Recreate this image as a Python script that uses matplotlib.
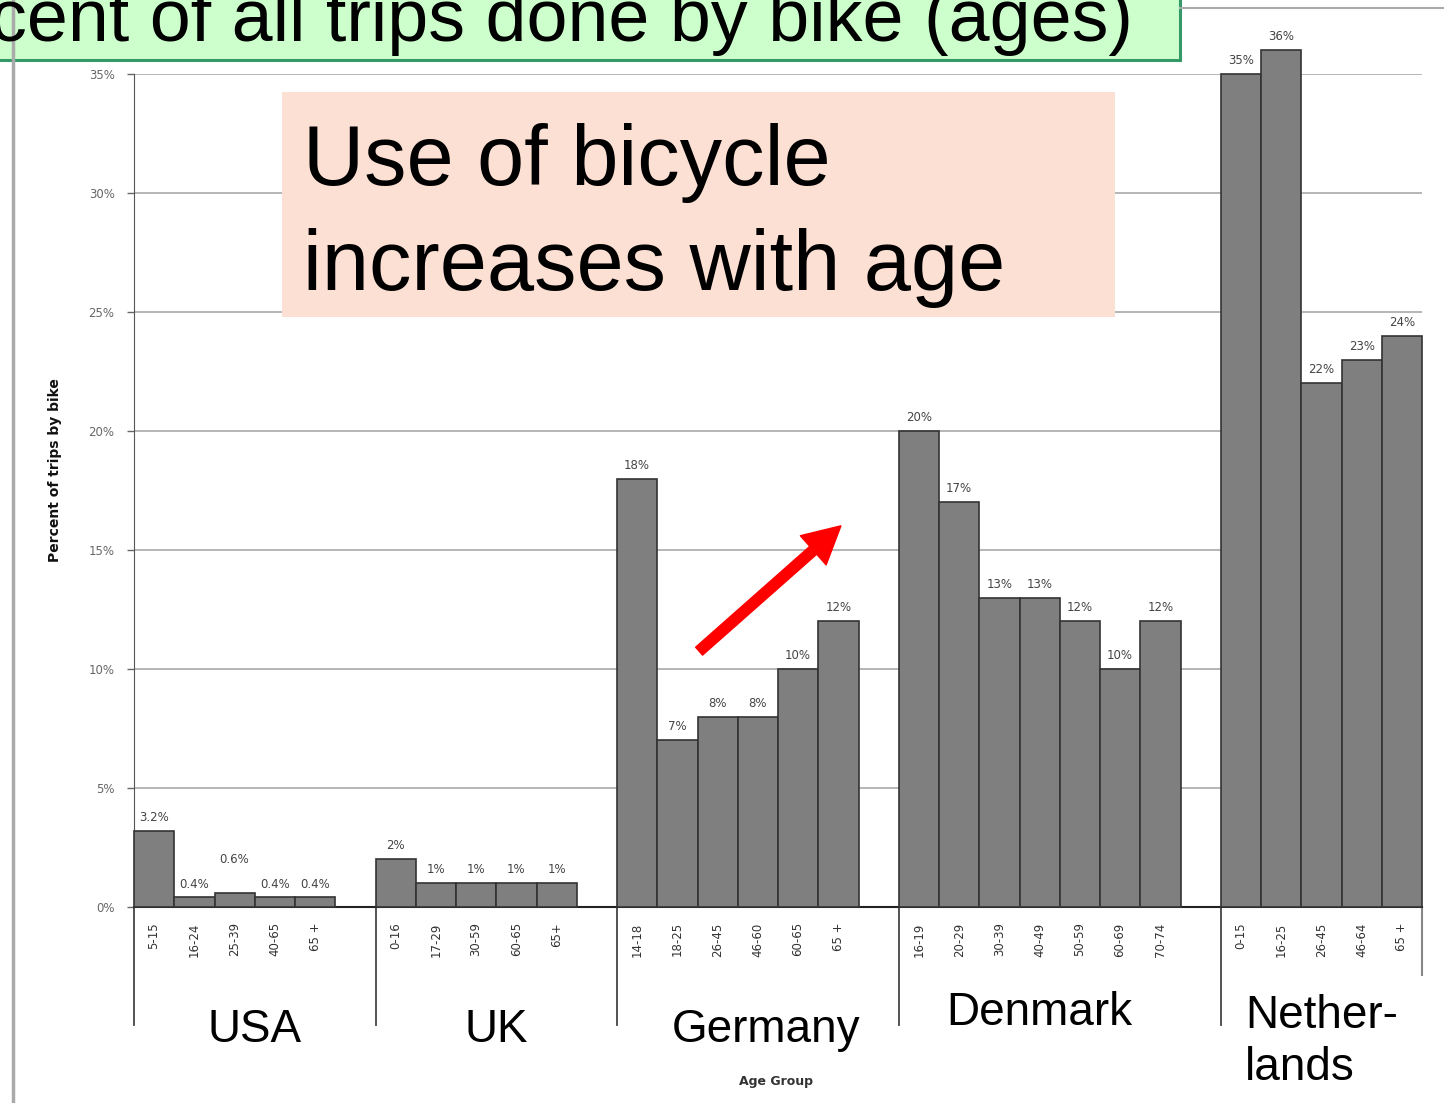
import matplotlib
matplotlib.use("Agg")
import matplotlib.pyplot as plt
from matplotlib.patches import Rectangle, FancyArrowPatch
from matplotlib.lines import Line2D

# data (percent of trips by bike)
countries = ["USA", "UK", "Germany", "Denmark", "Nether-\nlands"]
ages_usa = ["5-15", "16-24", "25-39", "40-65", "65 +"]
ages_uk = ["0-16", "17-29", "30-59", "60-65", "65+"]
ages_de = ["14-18", "18-25", "26-45", "46-60", "60-65", "65 +"]
ages_dk = ["16-19", "20-29", "30-39", "40-49", "50-59", "60-69", "70-74"]
ages_nl = ["0-15", "16-25", "26-45", "46-64", "65 +"]

usa = [3.2, 0.4, 0.6, 0.4, 0.4]
uk = [2, 1, 1, 1, 1]
germany = [18, 7, 8, 8, 10, 12]
denmark = [20, 17, 13, 13, 12, 10, 12]
netherlands = [35, 36, 22, 23, 24]

usa_lbl = ["3.2%", "0.4%", "0.6%", "0.4%", "0.4%"]
uk_lbl = ["2%", "1%", "1%", "1%", "1%"]
de_lbl = ["18%", "7%", "8%", "8%", "10%", "12%"]
dk_lbl = ["20%", "17%", "13%", "13%", "12%", "10%", "12%"]
nl_lbl = ["35%", "36%", "22%", "23%", "24%"]

yticks = [0, 5, 10, 15, 20, 25, 30, 35]
ytick_labels = ["0%", "5%", "10%", "15%", "20%", "25%", "30%", "35%"]

groups = [(ages_usa, usa, usa_lbl), (ages_uk, uk, uk_lbl), (ages_de, germany, de_lbl),
          (ages_dk, denmark, dk_lbl), (ages_nl, netherlands, nl_lbl)]
slots_per_group = [6, 6, 7, 8, 5]   # each group leaves an empty slot after its bars (not the last)

W, H = 1444, 1103
fig = plt.figure(figsize=(W / 100, H / 100), dpi=100)

def fx(px):
    return px / W

def fy(py):
    return 1 - py / H

ax = fig.add_axes([fx(134), fy(907), fx(1422) - fx(134), fy(74) - fy(907)])

starts = []
pos = 0
for n in slots_per_group:
    starts.append(pos)
    pos += n
total = pos

tick_pos, tick_lab = [], []
for (ages, vals, lbls), s in zip(groups, starts):
    xs = [s + i for i in range(len(vals))]
    ax.bar(xs, vals, width=1, align="edge", color="#7f7f7f", edgecolor="#333333",
           linewidth=1.2, clip_on=False, zorder=3)
    for x, v, t in zip(xs, vals, lbls):
        lift = 14 if t == "0.6%" else 0
        ax.annotate(t, (x + 0.5, v), xytext=(0, 5 + lift), textcoords="offset points",
                    ha="center", va="bottom", fontsize=8.5, color="#444444", zorder=4,
                    annotation_clip=False)
    tick_pos += [x + 0.5 for x in xs]
    tick_lab += ages

ax.set_xlim(0, total)
ax.set_ylim(0, 35)
ax.set_yticks(yticks)
ax.set_yticklabels(ytick_labels)
ax.set_xticks(tick_pos)
ax.set_xticklabels(tick_lab, rotation=90, va="top")
ax.tick_params(axis="x", length=0, pad=11, labelsize=8.5, labelcolor="#333333")
ax.tick_params(axis="y", length=5, width=1, color="#666666", pad=9, labelsize=8.5,
               labelcolor="#666666")
ax.grid(axis="y", color="#b0b0b0", linewidth=1.3, zorder=0)
ax.set_axisbelow(True)
for sp in ["top", "right"]:
    ax.spines[sp].set_visible(False)
ax.spines["left"].set_color("#555555")
ax.spines["bottom"].set_color("#222222")
ax.spines["bottom"].set_linewidth(1.5)

# category separators below the axis
xt = ax.get_xaxis_transform()
for s in starts:
    ax.plot([s, s], [0, -0.142], transform=xt, color="#444444", lw=1.3, clip_on=False)
ax.plot([total, total], [0, -0.082], transform=xt, color="#888888", lw=1.5, clip_on=False)

# country labels
label_x = [3, 9, 15.7, 22.5, 27.6]
label_y = [-0.148, -0.148, -0.148, -0.127, -0.162]
for name, x, y in zip(countries, label_x, label_y):
    ax.text(x, y, name, transform=xt, ha="left" if "\n" in name else "center",
            va="center", fontsize=33, family="Liberation Sans", linespacing=1.25)

ax.text(15.95, -0.209, "Age Group", transform=xt, ha="center", va="center",
        fontsize=9, fontweight="bold", color="#333333")

fig.text(fx(55), fy(470), "Percent of trips by bike", rotation=90, ha="center",
         va="center", fontsize=10, fontweight="bold", color="#111111")

# outer chart frame
fig.add_artist(Line2D([fx(13), fx(13)], [0, fy(0)], color="#aaaaaa", lw=2.5))
fig.add_artist(Line2D([fx(1180), 1], [fy(8), fy(8)], color="#aaaaaa", lw=1.5))

# title box (its text runs off the top edge, as in the slide)
fig.add_artist(Rectangle((fx(-10), fy(60)), fx(1190), fy(-10) - fy(60),
                         facecolor="#ccffcc", edgecolor="#339966", lw=2.2))
fig.text(fx(1133), fy(41), "cent of all trips done by bike (ages)", ha="right",
         va="baseline", fontsize=53, family="Liberation Sans")

# note box
fig.add_artist(Rectangle((fx(282), fy(317)), fx(1115) - fx(282), fy(92) - fy(317),
                         facecolor="#fde0d4", edgecolor="none", zorder=5))
fig.text(fx(303), fy(185), "Use of bicycle", ha="left", va="baseline", fontsize=61,
         family="Liberation Sans", zorder=6)
fig.text(fx(303), fy(290), "increases with age", ha="left", va="baseline", fontsize=61,
         family="Liberation Sans", zorder=6)

# red arrow
fig.add_artist(FancyArrowPatch(
    (fx(697), fy(653)), (fx(843), fy(524)), transform=fig.transFigure,
    arrowstyle="simple,head_length=0.95,head_width=1.0,tail_width=0.27",
    mutation_scale=28, color="#ff0000", zorder=6))

fig.savefig("out.png", dpi=100)
